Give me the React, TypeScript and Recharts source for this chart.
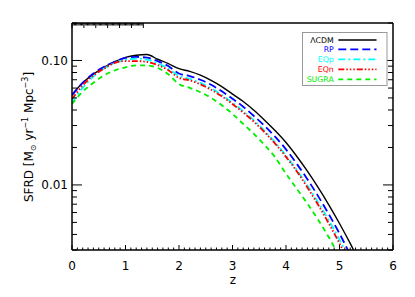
import React from 'react';
import { LineChart, Line, XAxis, YAxis, Legend } from 'recharts';

const zValues = [0, 0.2, 0.4, 0.6, 0.8, 1.0, 1.2, 1.4, 1.6, 1.8, 2.0, 2.2, 2.4, 2.6, 2.8, 3.0, 3.2, 3.4, 3.6, 3.8, 4.0, 4.2, 4.4, 4.6, 4.8, 5.0, 5.2, 5.4];
const lcdm = [0.0530, 0.0661, 0.0776, 0.0881, 0.0977, 0.1059, 0.1102, 0.1117, 0.1023, 0.0944, 0.0859, 0.0817, 0.0762, 0.0692, 0.0617, 0.0537, 0.0468, 0.0398, 0.0331, 0.0272, 0.0219, 0.0170, 0.0129, 0.00955, 0.00692, 0.00490, 0.00339, 0.00229];
const rp = [0.0525, 0.0661, 0.0785, 0.0891, 0.0977, 0.1047, 0.1067, 0.1052, 0.0989, 0.0902, 0.0785, 0.0750, 0.0700, 0.0638, 0.0565, 0.0493, 0.0425, 0.0358, 0.0298, 0.0243, 0.0193, 0.0148, 0.0111, 0.00813, 0.00582, 0.00407, 0.00275, 0.00182];
const eqp = [0.0457, 0.0603, 0.0741, 0.0861, 0.0955, 0.1012, 0.1035, 0.1016, 0.0951, 0.0861, 0.0750, 0.0713, 0.0661, 0.0598, 0.0528, 0.0457, 0.0391, 0.0330, 0.0272, 0.0219, 0.0172, 0.0132, 0.00989, 0.00724, 0.00519, 0.00363, 0.00245, 0.00162];
const eqn = [0.0490, 0.0631, 0.0759, 0.0861, 0.0955, 0.0989, 0.0989, 0.0973, 0.0918, 0.0836, 0.0724, 0.0692, 0.0643, 0.0582, 0.0515, 0.0447, 0.0382, 0.0322, 0.0265, 0.0214, 0.0168, 0.0129, 0.00955, 0.00692, 0.00490, 0.00339, 0.00229, 0.00151];
const sugra = [0.0447, 0.0562, 0.0661, 0.0759, 0.0832, 0.0881, 0.0912, 0.0912, 0.0871, 0.0776, 0.0646, 0.0603, 0.0556, 0.0501, 0.0437, 0.0372, 0.0309, 0.0257, 0.0209, 0.0166, 0.0123, 0.00933, 0.00708, 0.00525, 0.00380, 0.00263, 0.00178, 0.00117];

const seriesKeys = ['lcdm', 'rp', 'eqp', 'eqn', 'sugra'];
const seriesNames = ['ΛCDM', 'RP', 'EQp', 'EQn', 'SUGRA'];
const seriesColors = ['#000000', '#0000ff', '#00ffff', '#ff0000', '#00ee00'];
const seriesDash = ['', '8 4', '7 3 2 3', '6 2 1.5 2 1.5 2 1.5 2', '5 4'];
const seriesWidth = [1.4, 1.8, 1.8, 1.8, 1.8];

const xMajorTicks = [0, 1, 2, 3, 4, 5, 6];
const xAllTicks = Array.from({ length: 61 }, (_, i) => Math.round(i) / 10);
const yMajorTicks = [0.01, 0.1];
const yMajorLabels = ['0.01', '0.10'];
const yAllTicks = [0.003, 0.004, 0.005, 0.006, 0.007, 0.008, 0.009, 0.01, 0.02, 0.03, 0.04, 0.05, 0.06, 0.07, 0.08, 0.09, 0.1, 0.2];

const seriesValues = [lcdm, rp, eqp, eqn, sugra];
const data = zValues.map((z, i) => {
  const row: any = { z };
  seriesKeys.forEach((k, j) => { row[k] = seriesValues[j][i]; });
  return row;
});

const FONT = 'DejaVu Sans, sans-serif';

const isMajorX = (v: number) => xMajorTicks.some((m) => Math.abs(m - v) < 1e-6);
const majorYIndex = (v: number) => yMajorTicks.findIndex((m) => Math.abs(m - v) < 1e-9);

const BottomTick = (props: any) => {
  const { x, y, payload } = props;
  const major = isMajorX(payload.value);
  return (
    <g>
      <line x1={x} x2={x} y1={y} y2={y - (major ? 5 : 2.5)} stroke="#000" strokeWidth={1} />
      {major && (
        <text x={x} y={y + 19.5} textAnchor="middle" fontSize={12} fontFamily={FONT} fill="#000">
          {String(payload.value)}
        </text>
      )}
    </g>
  );
};

const TopTick = (props: any) => {
  const { x, y, payload } = props;
  const major = isMajorX(payload.value);
  return <line x1={x} x2={x} y1={y} y2={y + (major ? 5 : 2.5)} stroke="#000" strokeWidth={1} />;
};

const LeftTick = (props: any) => {
  const { x, y, payload } = props;
  const idx = majorYIndex(payload.value);
  const major = idx >= 0;
  return (
    <g>
      <line x1={x} x2={x + (major ? 10 : 5)} y1={y} y2={y} stroke="#000" strokeWidth={1} />
      {major && (
        <text x={x - 4} y={y + 4.4} textAnchor="end" fontSize={12} fontFamily={FONT} fill="#000">
          {yMajorLabels[idx]}
        </text>
      )}
    </g>
  );
};

const RightTick = (props: any) => {
  const { x, y, payload } = props;
  const major = majorYIndex(payload.value) >= 0;
  return <line x1={x} x2={x - (major ? 10 : 5)} y1={y} y2={y} stroke="#000" strokeWidth={1} />;
};

const renderYLabel = () => (
  <text x={33} y={137} transform="rotate(-90 33 137)" textAnchor="middle" fontSize={12} fontFamily={FONT} fill="#000">
    SFRD [M
    <tspan fontSize={8} dy={3}>⊙</tspan>
    <tspan dy={-3}> yr</tspan>
    <tspan fontSize={8} dy={-5}>−1</tspan>
    <tspan dy={5}> Mpc</tspan>
    <tspan fontSize={8} dy={-5}>−3</tspan>
    <tspan dy={5}>]</tspan>
  </text>
);

const renderXLabel = () => (
  <text x={232.8} y={284} textAnchor="middle" fontSize={12} fontFamily={FONT} fill="#000">
    z
  </text>
);

const rowY = [8, 17.4, 27.3, 37.3, 47.3];

const renderLegend = () => (
  <svg width={86} height={55} style={{ display: 'block' }}>
    <rect x={0.5} y={0.5} width={84.5} height={53} fill="#fff" stroke="#999" strokeWidth={1} />
    {seriesNames.map((n, i) => (
      <g key={n}>
        <text x={31.8} y={rowY[i] + 3} textAnchor="end" fontSize={7.8} fontFamily={FONT} fill={seriesColors[i]}>
          {n}
        </text>
        <line
          x1={36.3}
          x2={74.5}
          y1={rowY[i]}
          y2={rowY[i]}
          stroke={seriesColors[i]}
          strokeWidth={seriesWidth[i]}
          strokeDasharray={seriesDash[i] || undefined}
        />
      </g>
    ))}
  </svg>
);

export default function App() {
  return (
    <div style={{ position: 'absolute', left: 0, top: 0, width: 415, height: 297, background: '#fff' }}>
      <LineChart width={415} height={297} data={data} margin={{ top: 0, right: 0, bottom: 0, left: 0 }}>
        <XAxis
          dataKey="z"
          type="number"
          domain={[0, 6]}
          ticks={xAllTicks}
          interval={0}
          height={47}
          tickSize={0}
          tickMargin={0}
          tick={<BottomTick />}
          axisLine={{ stroke: '#000', strokeWidth: 1.5 }}
          allowDataOverflow
          label={renderXLabel}
        />
        <XAxis
          xAxisId="top"
          orientation="top"
          type="number"
          domain={[0, 6]}
          ticks={xAllTicks}
          interval={0}
          height={23}
          tickSize={0}
          tickMargin={0}
          tick={<TopTick />}
          axisLine={{ stroke: '#000', strokeWidth: 1.5 }}
          allowDataOverflow
        />
        <YAxis
          scale="log"
          type="number"
          domain={[0.003, 0.2]}
          ticks={yAllTicks}
          interval={0}
          width={72}
          tickSize={0}
          tickMargin={0}
          tick={<LeftTick />}
          axisLine={{ stroke: '#000', strokeWidth: 1.5 }}
          allowDataOverflow
          label={renderYLabel}
        />
        <YAxis
          yAxisId="right"
          orientation="right"
          scale="log"
          type="number"
          domain={[0.003, 0.2]}
          ticks={yAllTicks}
          interval={0}
          width={22}
          tickSize={0}
          tickMargin={0}
          tick={<RightTick />}
          axisLine={{ stroke: '#000', strokeWidth: 1.5 }}
          allowDataOverflow
        />
        <Legend
          layout="horizontal"
          verticalAlign="middle"
          align="center"
          content={renderLegend}
          wrapperStyle={{ left: 302, top: 32, width: 86, height: 55 }}
        />
        {seriesKeys.map((k, i) => (
          <Line
            key={k}
            dataKey={k}
            name={seriesNames[i]}
            type="monotone"
            stroke={seriesColors[i]}
            strokeWidth={seriesWidth[i]}
            strokeDasharray={seriesDash[i] || undefined}
            dot={false}
            activeDot={false}
            isAnimationActive={false}
          />
        ))}
      </LineChart>
    </div>
  );
}
